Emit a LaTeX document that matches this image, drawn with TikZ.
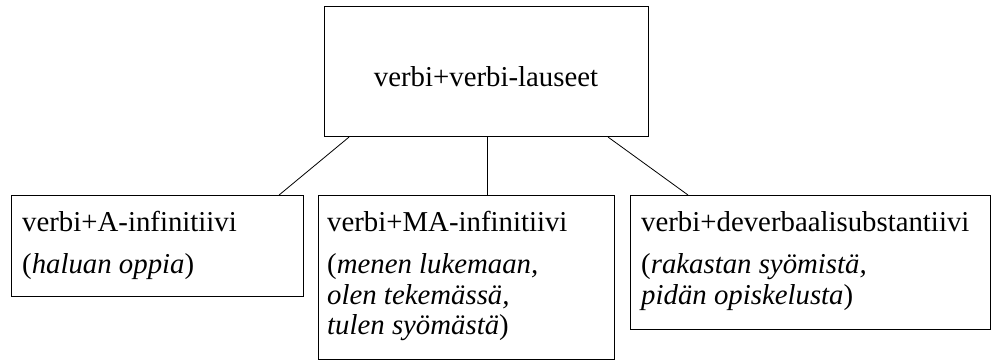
\documentclass[tikz,border=0pt]{standalone}
\usepackage{fontspec}
\setmainfont{Liberation Serif}
\begin{document}
\begin{tikzpicture}[x=1pt,y=-1pt,
  box/.style={draw=black, line width=1.1pt, rectangle, inner sep=0pt, anchor=north west},
  txt/.style={anchor=base west, inner sep=0pt, font=\fontsize{28.8pt}{30.5pt}\selectfont},
  link/.style={draw=black, line width=0.8pt}]
\useasboundingbox (0,0) rectangle (992,361);

% boxes
\node[box, minimum width=324pt, minimum height=130pt] (top) at (324,6) {};
\node[box, minimum width=292pt, minimum height=101pt] (ainf) at (11,195) {};
\node[box, minimum width=296pt, minimum height=164pt] (mainf) at (318,195) {};
\node[box, minimum width=360pt, minimum height=134pt] (deverb) at (630,195) {};

% texts
\node[txt, anchor=base] (toplbl) at (486,86) {verbi+verbi-lauseet};

\node[txt] (ainfA) at (22,231) {verbi+A-infinitiivi};
\node[txt] (ainfB) at (22,273) {(\textit{haluan oppia})};

\node[txt] (mainfA) at (327,231) {verbi+MA-infinitiivi};
\node[txt] (mainfB) at (327,273) {(\textit{menen lukemaan,}};
\node[txt] (mainfC) at (327,304) {\textit{olen tekemässä,}};
\node[txt] (mainfD) at (327,334) {\textit{tulen syömästä})};

\node[txt] (deverbA) at (641,231) {verbi+deverbaalisubstantiivi};
\node[txt] (deverbB) at (641,273) {(\textit{rakastan syömistä,}};
\node[txt] (deverbC) at (641,304) {\textit{pidän opiskelusta})};

% connectors
\draw[link] ([xshift=25pt]top.south west) -- ([xshift=-25pt]ainf.north east);
\draw[link] ([xshift=1pt]top.south) -- ([xshift=1pt]top.south |- mainf.north);
\draw[link] ([xshift=-41pt]top.south east) -- ([xshift=58pt]deverb.north west);
\end{tikzpicture}
\end{document}
